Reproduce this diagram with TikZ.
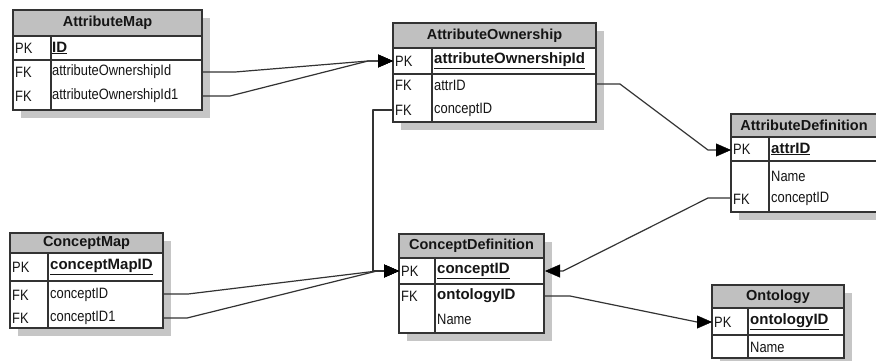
\documentclass[tikz,border=0pt]{standalone}
\usepackage{fontspec}
\setmainfont{Liberation Sans}[FakeStretch=0.86, BoldFeatures={FakeStretch=1.0}]
\usetikzlibrary{arrows.meta}
\definecolor{hdr}{HTML}{C0C0C0}
\definecolor{shd}{HTML}{C6C6C6}
\definecolor{ln}{HTML}{333333}
\definecolor{txt}{HTML}{151515}
\tikzset{
  tbl/.style={draw=ln, line width=1.1pt},
  hdrtxt/.style={inner sep=0pt, text=txt, font=\fontsize{14.5}{16}\selectfont\bfseries},
  keytxt/.style={anchor=west, inner sep=0pt, text=txt, font=\fontsize{15}{16}\selectfont},
  fldtxt/.style={anchor=west, inner sep=0pt, text=txt, font=\fontsize{15}{16}\selectfont},
  conn/.style={draw=ln, line width=1.2pt, line join=round,
    -{Triangle[length=15pt,width=13pt,color=black,fill=black,line width=0.4pt]}},
}
% #1 name, #2 title, #3 L, #4 T, #5 R, #6 header bottom, #7 key bottom, #8 bottom, #9 divider
\newcommand\ertable[9]{%
  \fill[shd] (#3+8,#4+8) rectangle (#5+8,#8+8);
  \fill[white] (#3,#4) rectangle (#5,#8);
  \fill[hdr] (#3,#4) rectangle (#5,#6);
  \draw[tbl] (#3,#4) rectangle (#5,#8);
  \draw[tbl] (#3,#6) -- (#5,#6);
  \draw[tbl] (#3,#7) -- (#5,#7);
  \draw[tbl] (#9,#6) -- (#9,#8);
  \node[hdrtxt] (#1) at ({(#3+#5)/2},{(#4+#6)/2}) {#2};
}
\begin{document}
\begin{tikzpicture}[x=1pt,y=-1pt]
\clip (0,0) rectangle (876,360);
\fill[white] (0,0) rectangle (876,360);

% tables
\ertable{am}{AttributeMap}{13}{10}{202}{36}{60}{110}{51}
\node[keytxt] (am-k1) at (15,48) {PK};
\node[fldtxt] (am-f1) at (52,48) {\textbf{\underline{ID}}};
\node[keytxt] (am-k2) at (15,72) {FK};
\node[fldtxt] (am-f2) at (52,72) {attributeOwnershipId};
\node[keytxt] (am-k3) at (15,96) {FK};
\node[fldtxt] (am-f3) at (52,96) {attributeOwnershipId1};

\ertable{ao}{AttributeOwnership}{393}{23}{596}{48}{74}{122}{432}
\node[keytxt] (ao-k1) at (395,61) {PK};
\node[fldtxt] (ao-f1) at (434,61) {\textbf{\underline{attributeOwnershipId}}};
\node[keytxt] (ao-k2) at (395,85) {FK};
\node[fldtxt] (ao-f2) at (434,85) {attrID};
\node[keytxt] (ao-k3) at (395,110) {FK};
\node[fldtxt] (ao-f3) at (434,110) {conceptID};

\ertable{ad}{AttributeDefinition}{731}{114}{877}{137}{161}{212}{769}
\node[keytxt] (ad-k1) at (733,149) {PK};
\node[fldtxt] (ad-f1) at (771,149) {\textbf{\underline{attrID}}};
\node[fldtxt] (ad-f2) at (771,176) {Name};
\node[keytxt] (ad-k3) at (733,199) {FK};
\node[fldtxt] (ad-f3) at (771,199) {conceptID};

\ertable{cm}{ConceptMap}{10}{233}{163}{253}{281}{328}{48}
\node[keytxt] (cm-k1) at (12,267) {PK};
\node[fldtxt] (cm-f1) at (50,267) {\textbf{\underline{conceptMapID}}};
\node[keytxt] (cm-k2) at (12,295) {FK};
\node[fldtxt] (cm-f2) at (50,295) {conceptID};
\node[keytxt] (cm-k3) at (12,318) {FK};
\node[fldtxt] (cm-f3) at (50,318) {conceptID1};

\ertable{cd}{ConceptDefinition}{399}{234}{544}{258}{284}{333}{435}
\node[keytxt] (cd-k1) at (401,271) {PK};
\node[fldtxt] (cd-f1) at (437,271) {\textbf{\underline{conceptID}}};
\node[keytxt] (cd-k2) at (401,296) {FK};
\node[fldtxt] (cd-f2) at (437,296) {\textbf{ontologyID}};
\node[fldtxt] (cd-f3) at (437,319) {Name};

\ertable{on}{Ontology}{712}{285}{844}{308}{335}{358}{748}
\node[keytxt] (on-k1) at (714,322) {PK};
\node[fldtxt] (on-f1) at (750,322) {\textbf{\underline{ontologyID}}};
\node[fldtxt] (on-f2) at (750,347) {Name};

% attachment points
\coordinate (am-o2) at (202,72);
\coordinate (am-o3) at (202,96);
\coordinate (ao-in) at (393,61);
\coordinate (ao-o2) at (596,84);
\coordinate (ao-o3) at (393,110);
\coordinate (ad-in) at (731,150);
\coordinate (ad-o3) at (731,198);
\coordinate (cm-o2) at (163,294);
\coordinate (cm-o3) at (163,318);
\coordinate (cd-inl) at (399,271);
\coordinate (cd-inr) at (545,271);
\coordinate (cd-o2) at (544,296);
\coordinate (on-in) at (712,322);

% connectors
\draw[conn] (am-o2) -- (235,72) -- (368,61) -- (ao-in);
\draw[conn] (am-o3) -- (230,96) -- (368,61) -- (ao-in);
\draw[conn] (ao-o2) -- (620,84) -- (708,150) -- (ad-in);
\draw[conn] (ao-o3) -- (373,110) -- (373,271) -- (cd-inl);
\draw[conn] (cm-o2) -- (188,294) -- (377,271) -- (cd-inl);
\draw[conn] (cm-o3) -- (187,318) -- (377,271) -- (cd-inl);
\draw[conn] (ad-o3) -- (708,198) -- (563,271) -- (cd-inr);
\draw[conn] (cd-o2) -- (570,296) -- (697,322) -- (on-in);
\end{tikzpicture}
\end{document}
